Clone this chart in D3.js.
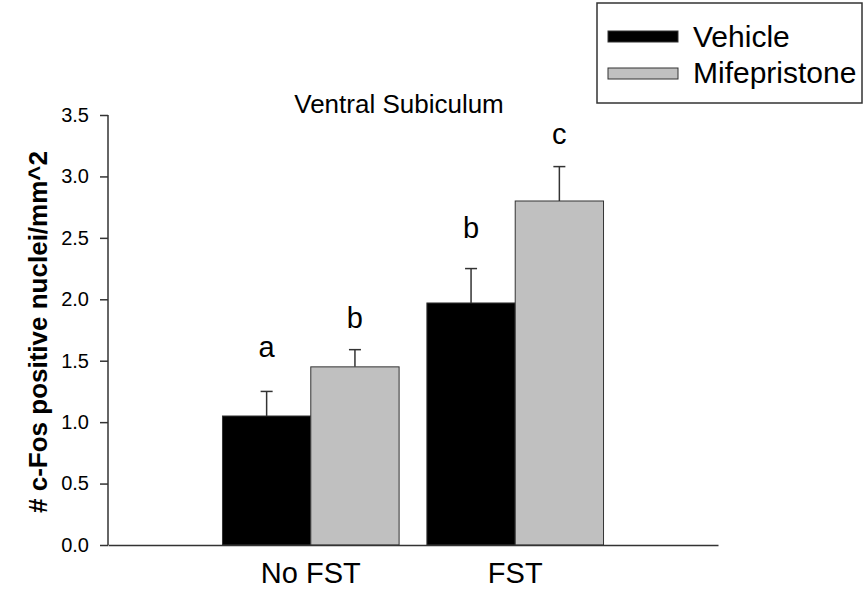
<!DOCTYPE html>
<html>
<head>
<meta charset="utf-8">
<script src="https://cdn.jsdelivr.net/npm/d3@7"></script>
<style>
  body { margin: 0; background: #fff; }
  svg { display: block; font-family: "Liberation Sans", Arial, sans-serif; }
</style>
</head>
<body>
<svg id="chart" width="864" height="593"></svg>
<script>
var groups = ["No FST", "FST"];
var series = ["Vehicle", "Mifepristone"];
var vehicleMean = [1.05, 1.97];
var vehicleErr = [0.20, 0.28];
var mifeMean = [1.45, 2.80];
var mifeErr = [0.14, 0.28];
var vehicleLetters = ["a", "b"];
var mifeLetters = ["b", "c"];
// letter baselines, in y units (typed by hand in the original)
var vehicleLetterY = [1.53, 2.50];
var mifeLetterY = [1.77, 3.26];
var yTicks = [0, 0.5, 1.0, 1.5, 2.0, 2.5, 3.0, 3.5];
var colors = ["#000000", "#c0c0c0"];

var svg = d3.select("#chart");

var x0 = d3.scaleBand().domain(groups).range([108, 718])
    .paddingInner(0.136).paddingOuter(0.56);
var x1 = d3.scaleBand().domain(series).range([0, x0.bandwidth()]);
var y = d3.scaleLinear().domain([0, 3.5]).range([545, 115]);

var rows = groups.map(function (g, i) {
  return [
    { group: g, s: series[0], v: vehicleMean[i], e: vehicleErr[i], l: vehicleLetters[i], ly: vehicleLetterY[i], c: colors[0] },
    { group: g, s: series[1], v: mifeMean[i], e: mifeErr[i], l: mifeLetters[i], ly: mifeLetterY[i], c: colors[1] }
  ];
});
var bars = d3.merge(rows);

// error bars (upper only), drawn under bars
var err = svg.append("g").attr("stroke", "#333").attr("stroke-width", 1.5);
bars.forEach(function (d) {
  var cx = x0(d.group) + x1(d.s) + x1.bandwidth() / 2;
  err.append("line").attr("x1", cx).attr("x2", cx)
    .attr("y1", y(d.v)).attr("y2", y(d.v + d.e));
  err.append("line").attr("x1", cx - 6).attr("x2", cx + 6)
    .attr("y1", y(d.v + d.e)).attr("y2", y(d.v + d.e));
});

svg.append("g").selectAll("rect")
  .data(bars)
  .enter().append("rect")
    .attr("x", function (d) { return x0(d.group) + x1(d.s); })
    .attr("y", function (d) { return y(d.v); })
    .attr("width", x1.bandwidth())
    .attr("height", function (d) { return y(0) - y(d.v); })
    .attr("fill", function (d) { return d.c; })
    .attr("stroke", "#333")
    .attr("stroke-width", 1);

svg.append("g").selectAll("text")
  .data(bars)
  .enter().append("text")
    .attr("x", function (d) { return x0(d.group) + x1(d.s) + x1.bandwidth() / 2; })
    .attr("y", function (d) { return y(d.ly); })
    .attr("text-anchor", "middle")
    .attr("font-size", 29)
    .text(function (d) { return d.l; });

// y axis
var yAxis = svg.append("g")
  .attr("transform", "translate(108,0)")
  .call(d3.axisLeft(y).tickValues(yTicks).tickFormat(d3.format(".1f")).tickSize(8).tickPadding(11));
yAxis.select(".domain").attr("stroke", "#333").attr("stroke-width", 1.5).attr("d", "M0,115V545");
yAxis.selectAll(".tick line").attr("stroke", "#333").attr("stroke-width", 1.5);
yAxis.selectAll(".tick text").attr("font-size", 20).attr("fill", "#000")
  .attr("font-family", "Liberation Sans, Arial, sans-serif");

// x axis
var xAxis = svg.append("g")
  .attr("transform", "translate(0,545)")
  .call(d3.axisBottom(x0).tickSize(0).tickPadding(17));
xAxis.select(".domain").attr("stroke", "#333").attr("stroke-width", 1.5);
xAxis.selectAll(".tick text").attr("font-size", 29).attr("fill", "#000")
  .attr("dy", "0.71em")
  .attr("font-family", "Liberation Sans, Arial, sans-serif");

// title
svg.append("text")
  .attr("x", 399).attr("y", 113)
  .attr("text-anchor", "middle")
  .attr("font-size", 26)
  .text("Ventral Subiculum");

// y label
svg.append("text")
  .attr("transform", "translate(47,332) rotate(-90)")
  .attr("text-anchor", "middle")
  .attr("font-size", 26)
  .attr("font-weight", "bold")
  .text("# c-Fos positive nuclei/mm^2");

// legend
var legend = svg.append("g");
legend.append("rect")
  .attr("x", 597).attr("y", 3).attr("width", 265).attr("height", 100)
  .attr("fill", "#fff").attr("stroke", "#333").attr("stroke-width", 1.5);
series.forEach(function (s, i) {
  legend.append("rect")
    .attr("x", 608).attr("y", 31 + i * 37).attr("width", 70).attr("height", 11)
    .attr("fill", colors[i]).attr("stroke", "#333").attr("stroke-width", 1);
  legend.append("text")
    .attr("x", 693).attr("y", 47 + i * 36)
    .attr("font-size", 30)
    .text(s);
});
</script>
</body>
</html>
